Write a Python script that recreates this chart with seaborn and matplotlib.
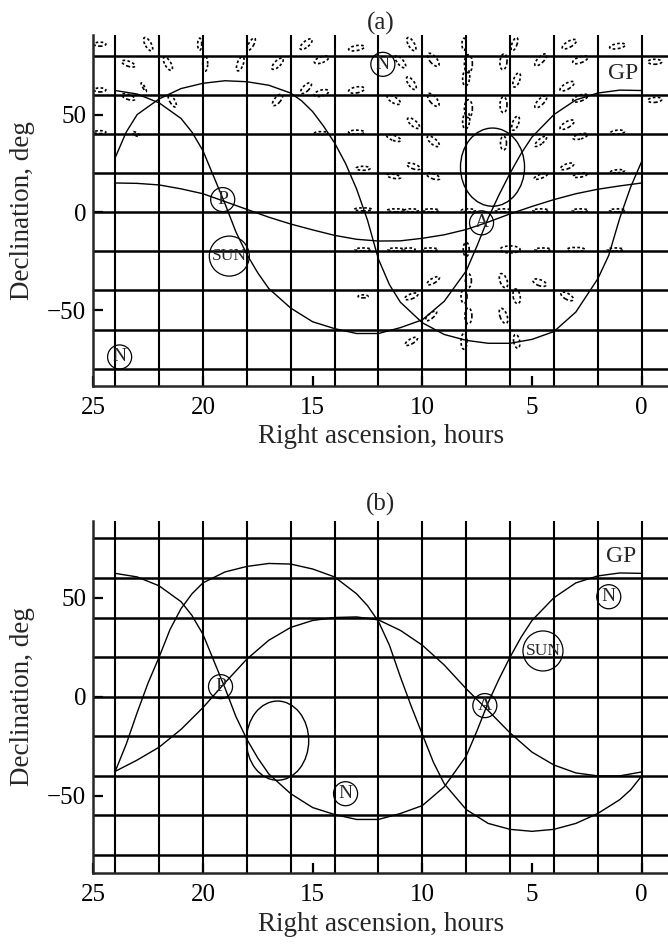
import numpy as np
import pandas as pd
import matplotlib
matplotlib.use("Agg")
import matplotlib.pyplot as plt
import seaborn as sns
from matplotlib.patches import Ellipse
from matplotlib.collections import EllipseCollection

sns.set_style("ticks")
plt.rcParams["font.family"] = ["Liberation Serif", "DejaVu Serif"]

# ---------------- data ----------------
x_ticks = [25, 20, 15, 10, 5, 0]
y_ticks = [50, 0, -50]
grid_ra = [24, 22, 20, 18, 16, 14, 12, 10, 8, 6, 4, 2, 0]
grid_dec = [80, 60, 40, 20, 0, -20, -40, -60, -80]

# galactic plane (both panels)
gp_ra = [24, 23, 22, 21, 20.5, 20, 19.5, 19, 18.5, 18, 17.5, 17, 16, 15, 14, 13,
         12, 11, 10, 9, 8, 7.5, 7, 6.5, 6, 5.5, 5, 4, 3, 2, 1, 0]
gp_dec = [62.3, 60.5, 56, 48, 41, 31.5, 18, 4.5, -10, -21.5, -31, -39, -49, -56,
          -59.5, -62, -62, -59, -55, -45.5, -30, -17, -3, 9, 20, 30, 38.5, 50,
          57.5, 61, 62.5, 62.3]

# panel (a) curves
c1a_ra = [24, 23.5, 23, 22, 21, 20, 19, 18, 17, 16, 15.5, 15, 14.5, 14, 13.5, 13,
          12.5, 12, 11.5, 11, 10, 9, 8, 7, 6, 5, 4, 3, 2, 1.5, 1, 0.5, 0]
c1a_dec = [28, 41, 50, 58, 63.3, 66, 67.3, 66.8, 65, 61, 57, 51.5, 44, 35.5, 25,
           12, -4, -24, -37, -46, -56.5, -62.5, -65.5, -67, -67, -65, -61, -51,
           -34, -22, -3, 13, 26]
c2a_ra = [24, 23, 22, 21, 20, 19, 18, 17, 16, 15, 14, 13, 12, 11, 10, 9, 8, 7, 6,
          5, 4, 3, 2, 1, 0]
c2a_dec = [15, 14.8, 14, 12, 9.5, 5.5, 1.5, -2.5, -6, -9, -11.8, -13.8, -14.7,
           -14.6, -13.3, -11.5, -8.8, -5, -0.8, 3, 6.5, 9.5, 11.8, 13.5, 15]

# panel (b) curves
c1b_ra = [24, 23.5, 23, 22.5, 22, 21.5, 21, 20.5, 20, 19, 18, 17, 16, 15, 14, 13,
          12.5, 12, 11.5, 11, 10.5, 10, 9.5, 9, 8, 7, 6, 5, 4, 3, 2, 1, 0.5, 0]
c1b_dec = [-37.7, -24, -8, 7, 20, 34, 44.5, 52, 57.5, 63, 65.8, 67.3, 67, 64.5,
           60.5, 52, 46, 38, 26, 10, -5, -19, -33, -44, -57, -64, -67, -68, -67,
           -64, -59, -52, -47, -40]
c2b_ra = [24, 23, 22, 21, 20, 19, 18, 17, 16, 15, 14, 13, 12, 11, 10, 9, 8, 7, 6,
          5, 4, 3, 2, 1, 0]
c2b_dec = [-37.7, -32, -25.5, -16.5, -5.5, 7, 19, 28.5, 35, 38.5, 40, 40.3, 38.8,
           33.5, 26, 16, 4, -7, -18.3, -28, -34.5, -38.5, -40, -40, -38]

# loops (ellipses)
ell_ra = [6.8, 16.6]
ell_dec = [23.1, -22.2]
ell_w = [2.92, 2.84]
ell_h = [40, 40]

# circled labels
lab_a_text = ["N", "P", "SUN", "A", "N"]
lab_a_ra = [11.8, 19.1, 18.8, 7.3, 23.8]
lab_a_dec = [75.7, 6.5, -22.4, -5.4, -74]
lab_b_text = ["P", "N", "A", "SUN", "N"]
lab_b_ra = [19.2, 13.5, 7.15, 4.5, 1.5]
lab_b_dec = [5.1, -49, -4.5, 23.1, 50.5]
gp_lab_ra = [0.85, 0.95]
gp_lab_dec = [71, 70.7]

# small dashed loops in panel (a)
loop_ra = [24.7, 22.5, 20.15, 17.8, 15.3, 13.0, 10.5, 8.1, 5.8, 3.3, 1.1,
           23.4, 21.6, 19.9, 18.3, 16.6, 14.6, 11.0, 9.5, 7.9, 6.3, 4.6, 2.8, -0.6,
           24.7, 23.4, 22.7, 21.4, 16.6, 15.3, 14.6, 13.0, 10.5, 8.0, 5.7, 3.4,
           11.3, 9.5, 7.9, 6.3, 4.6, 2.8, -0.6,
           24.7, 23.05, 14.6, 13.0, 10.4, 8.0, 5.75, 3.4,
           11.3, 9.5, 6.3, 4.6, 2.8, 1.1,
           12.7, 10.4, 3.4,
           11.3, 9.5, 4.6, 2.8, 1.1,
           12.7, 11.2, 10.5, 9.6, 7.9, 6.3, 4.6, 2.8, 1.1,
           12.7, 11.2, 10.6, 9.65, 8.0, 6.0, 4.5, 3.0, 1.2,
           9.5, 7.9, 6.3, 4.65,
           12.7, 10.5, 8.1, 5.7, 3.4,
           9.6, 7.9, 6.3,
           10.5, 8.1, 5.7]
loop_dec = [86, 86, 86, 86, 86, 84, 86, 86, 86, 86, 85,
            76, 76, 76, 76, 76, 78, 77, 78, 76, 77, 78, 78, 77,
            62.6, 59, 64, 57, 57.5, 63.5, 61, 62.6, 66, 69, 67.7, 64.5,
            57.5, 57.5, 53, 55, 56.5, 58.4, 57.5,
            41, 40, 40.5, 41, 45.6, 47, 45.6, 44.8,
            38, 36.3, 35.4, 36.3, 38.8, 41,
            22.5, 23.5, 23.5,
            18.4, 18.4, 18.4, 19, 21,
            1.5, 1, 1, 1, 1, 1, 1, 1, 1,
            -19, -19, -19, -19, -19, -19, -19, -19, -19,
            -35, -35, -35, -36,
            -43, -43, -43, -43, -43,
            -53, -53, -53,
            -66, -66, -66]
loop_ang = [0, -60, 90, 60, 40, 10, -60, 90, 70, 30, 10,
            -20, -60, 90, 70, 45, 20, -50, -50, 90, 85, 45, 20, 0,
            0, -20, -60, -60, 50, 45, 15, 10, -55, 85, 70, 30,
            -30, -50, 90, 90, 45, 20, 5,
            0, -30, 0, 0, -40, 85, 70, 30,
            -20, -40, 90, 40, 15, 5,
            0, -20, 20,
            -10, -20, 20, 10, 5,
            0, 0, 0, 0, 0, 0, 0, 0, 0,
            0, 0, 0, 0, 90, 0, 0, 0, 0,
            30, 90, -70, -20,
            0, 20, 90, -80, -30,
            40, 90, -70,
            30, 90, -80]
loop_len = [12, 15, 12, 14, 15, 16, 15, 12, 14, 16, 16,
            14, 15, 15, 15, 15, 15, 15, 16, 18, 16, 16, 16, 14,
            12, 14, 10, 14, 14, 14, 15, 16, 15, 17, 15, 16,
            15, 16, 18, 16, 16, 16, 14,
            12, 8, 14, 16, 15, 17, 15, 16,
            15, 15, 14, 15, 15, 14,
            14, 14, 14,
            14, 14, 14, 14, 14,
            18, 18, 14, 16, 14, 16, 16, 16, 16,
            16, 16, 12, 16, 14, 20, 16, 18, 16,
            14, 14, 15, 14,
            10, 14, 14, 15, 14,
            14, 16, 16,
            14, 16, 14]
loop_wid = [4, 6, 4, 5, 6, 5, 6, 4, 5, 6, 5,
            5, 6, 5, 6, 6, 6, 6, 7, 8, 7, 6, 6, 5,
            4, 5, 2, 5, 6, 6, 6, 6, 6, 7, 6, 6,
            6, 7, 8, 7, 6, 6, 5,
            3, 3, 3, 4, 6, 7, 6, 6,
            5, 6, 6, 5, 5, 4,
            4, 5, 5,
            4, 5, 4, 4, 3,
            3, 3, 3, 3, 3, 3, 3, 3, 3,
            3, 3, 3, 3, 6, 7, 3, 4, 3,
            5, 6, 7, 6,
            3, 5, 6, 7, 6,
            5, 7, 7,
            5, 6, 6]

# ---------------- figure ----------------
W, H = 668, 950
fig = plt.figure(figsize=(W / 100, H / 100), dpi=100)
ax_a = fig.add_axes([93.3 / W, 1 - 385.7 / H, (W - 93.3) / W, (385.7 - 35) / H])
ax_b = fig.add_axes([93.3 / W, 1 - 873.3 / H, (W - 93.3) / W, (873.3 - 520.7) / H])

FS = 18
LFS = 19.5


def setup(ax, ylim, title, tpad):
    for r in grid_ra:
        ax.axvline(r, color="k", lw=1.5, zorder=1)
    for d in grid_dec:
        ax.axhline(d, color="k", lw=1.8, zorder=1)
    ax.set_xlim(25, -1.2)
    ax.set_ylim(*ylim)
    ax.set_xticks(x_ticks)
    ax.set_yticks(y_ticks)
    for s in ["top", "right"]:
        ax.spines[s].set_visible(False)
    for s in ["left", "bottom"]:
        ax.spines[s].set_linewidth(1.8)
    ax.tick_params(axis="both", direction="in", length=7, width=1.6,
                   labelsize=FS, colors="k")
    ax.tick_params(axis="x", pad=8)
    ax.tick_params(axis="y", pad=5)
    ax.set_title(title, fontsize=FS, pad=tpad)


def curve(ax, xs, ys):
    df = pd.DataFrame({"ra": xs, "dec": ys})
    sns.lineplot(data=df, x="ra", y="dec", sort=False, estimator=None,
                 color="k", lw=1.0, ax=ax, zorder=3)


def circled(ax, texts, xs, ys):
    for t, x, y in zip(texts, xs, ys):
        big = t == "SUN"
        ax.scatter([x], [y], s=830 if big else 300, facecolors="none",
                   edgecolors="k", linewidths=0.9, zorder=4)
        ax.text(x, y, t, ha="center", va="center", fontsize=12.5 if big else 14,
                zorder=5)


# panel (a)
setup(ax_a, (-88.7, 90.7), "(a)", 2)
ec = EllipseCollection(loop_len, loop_wid, loop_ang, units="dots",
                       offsets=np.column_stack([loop_ra, loop_dec]),
                       offset_transform=ax_a.transData, facecolors="none",
                       edgecolors="k", linewidths=1.2,
                       linestyles=[(0, (1.6, 1.4))], zorder=2)
ax_a.add_collection(ec)
curve(ax_a, gp_ra, gp_dec)
curve(ax_a, c1a_ra, c1a_dec)
curve(ax_a, c2a_ra, c2a_dec)
ax_a.add_patch(Ellipse((ell_ra[0], ell_dec[0]), ell_w[0], ell_h[0],
                       fill=False, ec="k", lw=1.0, zorder=3))
circled(ax_a, lab_a_text, lab_a_ra, lab_a_dec)
ax_a.text(gp_lab_ra[0], gp_lab_dec[0], "GP", ha="center", va="center",
          fontsize=17, zorder=5)
ax_a.set_xlim(25, -1.2)
ax_a.set_ylim(-88.7, 90.7)

# panel (b)
setup(ax_b, (-89.2, 88.9), "(b)", 7)
dx, dy = np.meshgrid(grid_ra[1:-1], grid_dec[1:])
ax_b.scatter(dx.ravel(), dy.ravel(), s=3.5, marker="s", color="k", lw=0, zorder=2)
curve(ax_b, gp_ra, gp_dec)
curve(ax_b, c1b_ra, c1b_dec)
curve(ax_b, c2b_ra, c2b_dec)
ax_b.add_patch(Ellipse((ell_ra[1], ell_dec[1]), ell_w[1], ell_h[1],
                       fill=False, ec="k", lw=1.0, zorder=3))
circled(ax_b, lab_b_text, lab_b_ra, lab_b_dec)
ax_b.text(gp_lab_ra[1], gp_lab_dec[1], "GP", ha="center", va="center",
          fontsize=17, zorder=5)
ax_b.set_xlim(25, -1.2)
ax_b.set_ylim(-89.2, 88.9)

for ax in (ax_a, ax_b):
    ax.set_xlabel("Right ascension, hours", fontsize=LFS, labelpad=4)
    ax.set_ylabel("Declination, deg", fontsize=LFS, labelpad=9)

fig.savefig("out.png", dpi=100)
